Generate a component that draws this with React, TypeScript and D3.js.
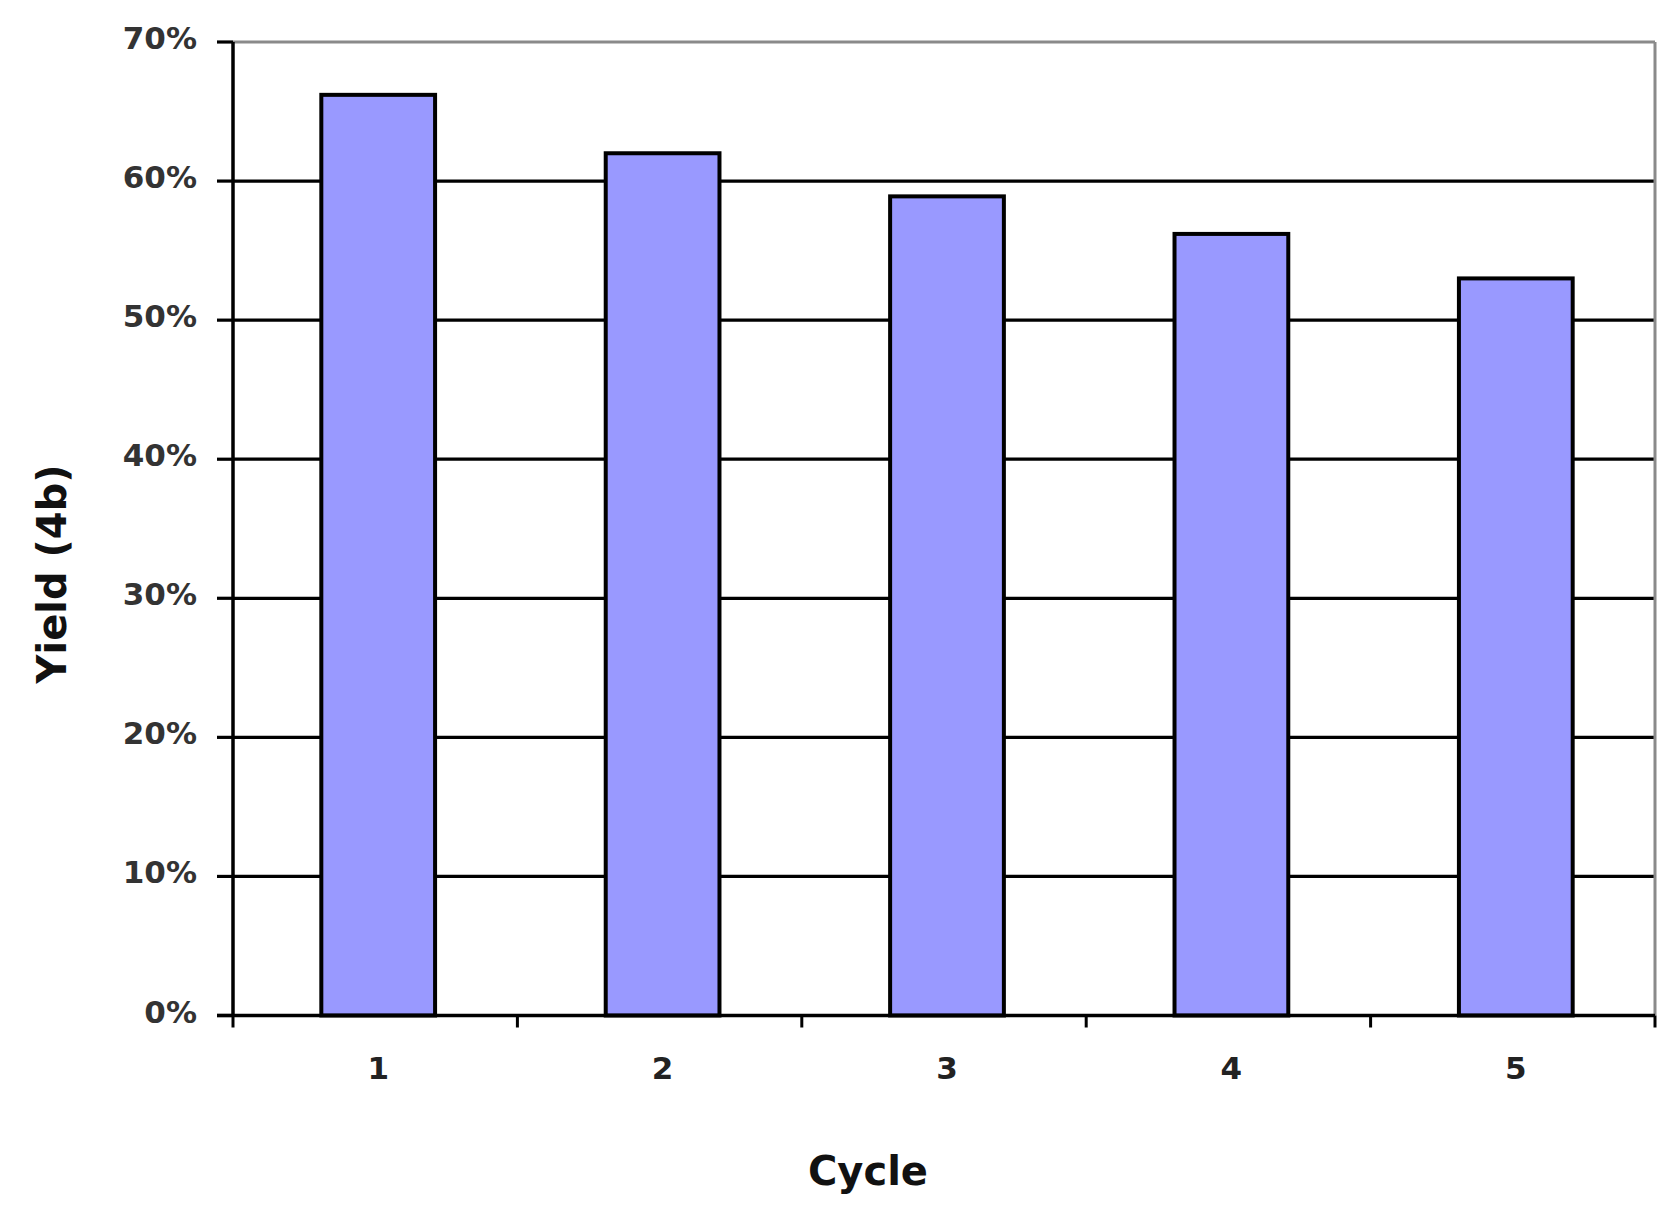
import React from "react";
import * as d3 from "d3";

const categories: string[] = ["1", "2", "3", "4", "5"];
const yields: number[] = [0.662, 0.62, 0.589, 0.562, 0.53];
const yTicks: number[] = [0, 0.1, 0.2, 0.3, 0.4, 0.5, 0.6, 0.7];
const xTitle = "Cycle";
const yTitle = "Yield (4b)";

const W = 1680;
const H = 1216;
const left = 233;
const right = 1655;
const top = 42;
const bottom = 1015.5;
const FONT = "'DejaVu Sans', Verdana, sans-serif";

export default function App() {
  const x = d3.scaleBand<string>().domain(categories).range([left, right]).padding(0);
  const y = d3.scaleLinear().domain([0, 0.7]).range([bottom, top]);
  const step = x.step();
  const barW = step * 0.4;
  const fmt = d3.format(".0%");
  const boundaries = [...categories.map((c) => x(c) as number), right];

  return (
    <svg
      width={W}
      height={H}
      style={{ position: "absolute", left: 0, top: 0, background: "#fff" }}
    >
      <rect x={0} y={0} width={W} height={H} fill="#fff" />
      {/* gridlines */}
      {yTicks
        .filter((t) => t > 0 && t < 0.7)
        .map((t) => (
          <line key={"g" + t} x1={left} x2={right} y1={y(t)} y2={y(t)} stroke="#000" strokeWidth={3.2} />
        ))}
      {/* plot border top/right */}
      <line x1={left} x2={right} y1={top} y2={top} stroke="#8a8a8a" strokeWidth={3} />
      <line x1={right} x2={right} y1={top} y2={bottom} stroke="#8a8a8a" strokeWidth={3} />
      {/* bars */}
      {categories.map((c, i) => (
        <rect
          key={"b" + c}
          x={(x(c) as number) + (step - barW) / 2 + 3}
          y={y(yields[i])}
          width={barW}
          height={bottom - y(yields[i])}
          fill="#9999ff"
          stroke="#000"
          strokeWidth={4}
        />
      ))}
      {/* y axis */}
      <line x1={left} x2={left} y1={top} y2={bottom} stroke="#000" strokeWidth={3.5} />
      {yTicks.map((t) => (
        <g key={"yt" + t}>
          <line x1={left - 16} x2={left} y1={y(t)} y2={y(t)} stroke="#000" strokeWidth={3.2} />
          <text
            x={197}
            y={y(t) + 7}
            textAnchor="end"
            fontFamily={FONT}
            fontSize={31}
            fontWeight="bold"
            fill="#333"
          >
            {fmt(t)}
          </text>
        </g>
      ))}
      {/* x axis */}
      <line x1={left - 16} x2={right} y1={bottom} y2={bottom} stroke="#000" strokeWidth={3.5} />
      {boundaries.map((b, i) => (
        <line key={"xt" + i} x1={b} x2={b} y1={bottom} y2={bottom + 12} stroke="#000" strokeWidth={3} />
      ))}
      {categories.map((c) => (
        <text
          key={"xl" + c}
          x={(x(c) as number) + step / 2 + 3}
          y={1079}
          textAnchor="middle"
          fontFamily={FONT}
          fontSize={31}
          fontWeight="bold"
          fill="#222"
        >
          {c}
        </text>
      ))}
      {/* titles */}
      <text x={868} y={1185} textAnchor="middle" fontFamily={FONT} fontSize={40} fontWeight="bold" fill="#111">
        {xTitle}
      </text>
      <text
        transform={`translate(66, 574) rotate(-90)`}
        textAnchor="middle"
        fontFamily={FONT}
        fontSize={40}
        fontWeight="bold"
        fill="#111"
      >
        {yTitle}
      </text>
    </svg>
  );
}
